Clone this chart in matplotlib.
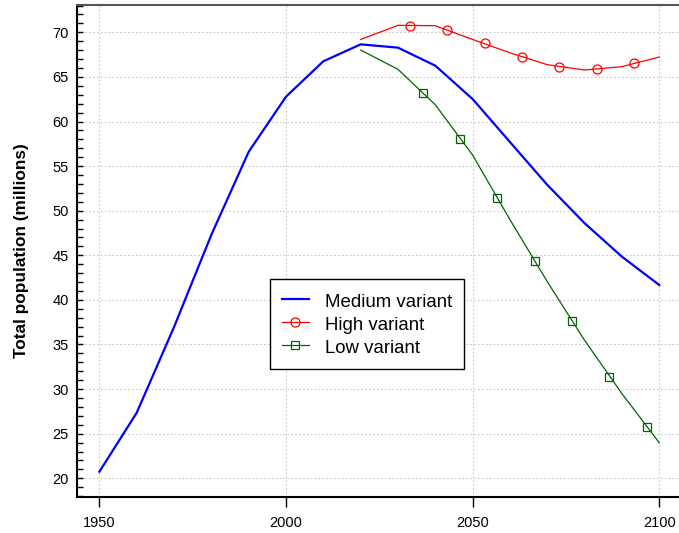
import numpy as np
import matplotlib
matplotlib.use("Agg")
import matplotlib.pyplot as plt
from matplotlib.ticker import MultipleLocator

plt.rcParams['font.family'] = ['Liberation Sans', 'DejaVu Sans']

# medium variant, 1950-2100 by decade
years = [1950, 1960, 1970, 1980, 1990, 2000, 2010, 2020, 2030, 2040,
         2050, 2060, 2070, 2080, 2090, 2100]
medium = [20.74, 27.35, 36.96, 47.3, 56.6, 62.78, 66.75, 68.65, 68.28, 66.26,
          62.52, 57.7, 52.9, 48.6, 44.85, 41.67]

# high / low variants start 2020
proj_years = [2020, 2030, 2040, 2050, 2060, 2070, 2080, 2090, 2100]
high = [69.2, 70.78, 70.74, 69.2, 67.7, 66.37, 65.77, 66.15, 67.23]
low = [68.01, 65.85, 61.88, 56.24, 49.0, 42.05, 35.47, 29.5, 23.99]

# marker positions as drawn in the picture
high_mk_years = [2033.2, 2043.2, 2053.2, 2063.2, 2073.2, 2083.2, 2093.2]
high_mk_vals = [70.71, 70.22, 68.8, 67.23, 66.11, 65.85, 66.52]
low_mk_years = [2036.6, 2046.6, 2056.6, 2066.6, 2076.5, 2086.6, 2096.6]
low_mk_vals = [63.16, 58.0, 51.39, 44.36, 37.64, 31.39, 25.79]

fig = plt.figure(figsize=(6.79, 5.33), dpi=100)
ax = fig.add_axes([0.1134, 0.0675, 0.8866, 0.9231])

ax.plot(years, medium, color='blue', lw=1.6, zorder=3)
ax.plot(proj_years, high, color='red', lw=0.9, zorder=3)
ax.plot(high_mk_years, high_mk_vals, ls='none', marker='o', ms=6.5,
        mfc='none', mec='red', mew=0.9, zorder=4)
ax.plot(proj_years, low, color='#006400', lw=0.9, zorder=3)
ax.plot(low_mk_years, low_mk_vals, ls='none', marker='s', ms=5.5,
        mfc='none', mec='#006400', mew=0.9, zorder=4)

# legend proxies
h1, = ax.plot([], [], color='blue', lw=1.6)
h2, = ax.plot([], [], color='red', lw=0.9, marker='o', ms=6.5, mfc='none', mew=0.9)
h3, = ax.plot([], [], color='#006400', lw=0.9, marker='s', ms=5.5, mfc='none', mew=0.9)
leg = ax.legend([h1, h2, h3], ['Medium variant', 'High variant', 'Low variant'],
                loc='upper left', bbox_to_anchor=(0.3206, 0.443), borderaxespad=0,
                fontsize=13.4, frameon=True, fancybox=False, edgecolor='black',
                framealpha=1, handlelength=1.45, handleheight=1.24,
                labelspacing=0.16, borderpad=0.63, handletextpad=0.9)
leg.get_frame().set_linewidth(1.0)

ax.set_xlim(1944, 2105.3)
ax.set_ylim(17.9, 73.06)
ax.set_xticks([1950, 2000, 2050, 2100])
ax.yaxis.set_major_locator(MultipleLocator(5))
ax.yaxis.set_minor_locator(MultipleLocator(1))

ax.grid(True, which='major', color='#c8c8c8', ls=(0, (1.5, 2)), lw=0.8)
ax.set_axisbelow(True)

ax.tick_params(axis='y', which='both', direction='in', length=4, width=1,
               labelsize=10.5, pad=6)
ax.tick_params(axis='x', which='major', direction='out', length=7, width=1,
               labelsize=10.5, pad=7)

ax.spines['right'].set_visible(False)
ax.spines['top'].set_color('#555555')
ax.spines['top'].set_linewidth(1.5)
ax.spines['left'].set_linewidth(1.5)
ax.spines['bottom'].set_linewidth(1.5)

ax.set_ylabel('Total population (millions)', fontsize=12.4, fontweight='bold',
              labelpad=17)

fig.savefig('out.png', dpi=100)
